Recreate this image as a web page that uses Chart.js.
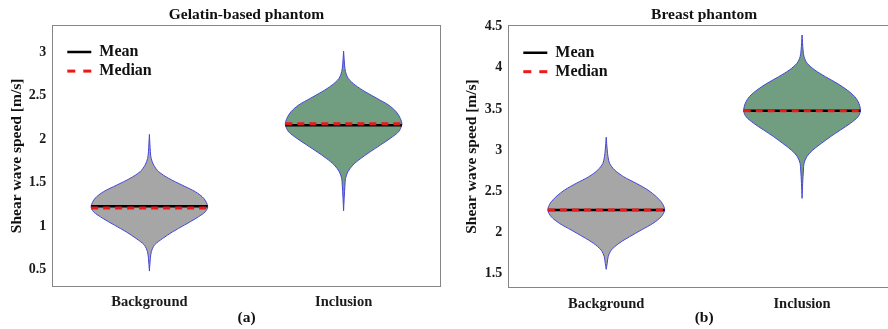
<!DOCTYPE html>
<html>
<head>
<meta charset="utf-8">
<title>Shear wave speed violins</title>
<script src="https://cdn.jsdelivr.net/npm/chart.js@4.4.1/dist/chart.umd.min.js"></script>
<style>
  html, body { margin: 0; padding: 0; background: #fff; overflow: hidden; }
  #wrap { position: relative; width: 888px; height: 329px; overflow: hidden; }
  canvas { position: absolute; top: 0; }
  #chartA { left: 0; }
  #chartB { left: 444px; }
</style>
</head>
<body>
<div id="wrap">
  <canvas id="chartA" width="444" height="329"></canvas>
  <canvas id="chartB" width="456" height="329"></canvas>
</div>
<script>
const categories = ['Background', 'Inclusion'];
const xTicks = [1, 2];

// (a) Gelatin-based phantom - violin outline: speed level (top to bottom) and half width
const gelBgLevels = [2.055, 1.855, 1.779, 1.702, 1.625, 1.548, 1.471, 1.394, 1.318, 1.226, 1.164, 1.088, 1.01, 0.933, 0.857, 0.78, 0.703, 0.627, 0.48];
const gelBgHalf = [0, 0.005, 0.009, 0.022, 0.048, 0.10, 0.168, 0.237, 0.28, 0.30, 0.288, 0.24, 0.18, 0.12, 0.069, 0.026, 0.01, 0.005, 0];
const gelIncLevels = [3.015, 2.854, 2.777, 2.70, 2.623, 2.546, 2.47, 2.393, 2.316, 2.24, 2.17, 2.085, 2.009, 1.932, 1.855, 1.779, 1.702, 1.624, 1.548, 1.471, 1.318, 1.175];
const gelIncHalf = [0, 0.005, 0.010, 0.024, 0.060, 0.112, 0.172, 0.232, 0.271, 0.292, 0.30, 0.283, 0.240, 0.189, 0.137, 0.089, 0.048, 0.022, 0.010, 0.007, 0.003, 0];
const gelMean = [1.226, 2.162];
const gelMedian = [1.207, 2.178];
const gelTicks = [0.5, 1, 1.5, 2, 2.5, 3];

// (b) Breast phantom
const brBgLevels = [3.155, 3.0, 2.918, 2.838, 2.757, 2.675, 2.595, 2.513, 2.432, 2.352, 2.27, 2.189, 2.108, 2.027, 1.945, 1.865, 1.783, 1.702, 1.622, 1.549];
const brBgHalf = [0, 0.005, 0.009, 0.017, 0.043, 0.089, 0.153, 0.213, 0.256, 0.286, 0.298, 0.281, 0.239, 0.179, 0.119, 0.065, 0.026, 0.010, 0.005, 0];
const brIncLevels = [4.399, 4.217, 4.135, 4.055, 3.973, 3.892, 3.811, 3.73, 3.649, 3.568, 3.478, 3.405, 3.325, 3.243, 3.162, 3.081, 3.0, 2.918, 2.838, 2.757, 2.595, 2.412];
const brIncHalf = [0, 0.005, 0.010, 0.026, 0.065, 0.119, 0.179, 0.23, 0.269, 0.29, 0.298, 0.286, 0.247, 0.196, 0.145, 0.099, 0.055, 0.024, 0.010, 0.007, 0.003, 0];
const brMean = [2.27, 3.478];
const brMedian = [2.27, 3.478];
const brTicks = [1.5, 2, 2.5, 3, 3.5, 4, 4.5];

const bgFill = 'rgb(166, 166, 166)';
const incFill = 'rgb(113, 157, 128)';
const edge = 'rgb(70, 70, 215)';
const frame = '#858585';

Chart.defaults.font.family = "'Liberation Serif', 'Times New Roman', serif";
Chart.defaults.font.weight = 'bold';
Chart.defaults.color = '#1a1a1a';

// closed outline: right side going down, left side coming back up
function violin(center, levels, half) {
  const right = levels.map((y, i) => ({ x: center + half[i], y: y }));
  const left = levels.map((y, i) => ({ x: center - half[i], y: y })).reverse();
  return right.concat(left);
}

// one horizontal segment per category, broken by a null point
function statLine(values, widths) {
  const pts = [];
  values.forEach((v, i) => {
    if (i > 0) pts.push({ x: xTicks[i] - 0.5, y: null });
    pts.push({ x: xTicks[i] - widths[i], y: v }, { x: xTicks[i] + widths[i], y: v });
  });
  return pts;
}

// puts the legend inside the plot, a bit away from the frame corner
const legendNudge = {
  id: 'legendNudge',
  afterLayout(chart, args, opts) {
    const lg = chart.legend;
    const area = chart.chartArea;
    lg.left = area.left + opts.dx;
    lg.top = area.top + opts.dy;
    lg.right = area.right;
    lg.bottom = area.bottom;
  }
};

function legendItems(chart) {
  const base = Chart.defaults.plugins.legend.labels.generateLabels(chart);
  return base
    .filter(item => item.text === 'Mean' || item.text === 'Median')
    .map(item => {
      const ds = chart.data.datasets[item.datasetIndex];
      item.strokeStyle = ds.borderColor;
      item.lineWidth = ds.borderWidth;
      item.lineDash = ds.borderDash ? [8, 8] : [];
      return item;
    });
}

function panel(id, cfg) {
  const widths = [Math.max(...cfg.bgHalf), Math.max(...cfg.incHalf)];
  return new Chart(document.getElementById(id), {
    type: 'line',
    plugins: [legendNudge],
    data: {
      datasets: [
        {
          label: 'Mean',
          data: statLine(cfg.mean, widths),
          borderColor: '#000',
          borderWidth: 2.5,
          order: 1
        },
        {
          label: 'Median',
          data: statLine(cfg.median, widths),
          borderColor: 'rgb(235, 25, 25)',
          borderWidth: 3,
          borderDash: [7, 5],
          order: 0
        },
        {
          label: categories[0],
          data: violin(xTicks[0], cfg.bgLevels, cfg.bgHalf),
          fill: 'shape',
          backgroundColor: bgFill,
          borderColor: edge,
          borderWidth: 1,
          tension: 0.3,
          order: 2
        },
        {
          label: categories[1],
          data: violin(xTicks[1], cfg.incLevels, cfg.incHalf),
          fill: 'shape',
          backgroundColor: incFill,
          borderColor: edge,
          borderWidth: 1,
          tension: 0.3,
          order: 2
        }
      ]
    },
    options: {
      responsive: false,
      animation: false,
      devicePixelRatio: 1,
      events: [],
      layout: { padding: { right: cfg.padRight } },
      elements: { point: { radius: 0 } },
      plugins: {
        title: {
          display: true,
          text: cfg.title,
          fullSize: false,
          color: '#111',
          font: { size: 15.5, weight: 'bold' },
          padding: cfg.titlePad
        },
        legend: {
          position: 'chartArea',
          align: 'start',
          labels: {
            usePointStyle: true,
            pointStyle: 'line',
            pointStyleWidth: 24,
            padding: 3,
            color: '#111',
            font: { size: 16, weight: 'bold' },
            generateLabels: legendItems,
            sort: (a, b) => a.datasetIndex - b.datasetIndex
          }
        },
        legendNudge: { dx: 12, dy: 16 },
        tooltip: { enabled: false }
      },
      scales: {
        x: {
          type: 'linear',
          min: 0.5,
          max: 2.5,
          afterBuildTicks: s => { s.ticks = xTicks.map(v => ({ value: v })); },
          afterFit: s => { s.height = cfg.xAxisHeight; },
          grid: { display: false, drawTicks: false },
          border: { display: true, color: frame, width: 1 },
          ticks: {
            padding: cfg.xTickPad,
            color: '#1a1a1a',
            font: { size: 14.5, weight: 'bold' },
            callback: v => categories[xTicks.indexOf(v)]
          },
          title: {
            display: true,
            text: cfg.letter,
            color: '#111',
            font: { size: 15.5, weight: 'bold' },
            padding: { top: 0, bottom: 2 }
          }
        },
        y: {
          min: cfg.yMin,
          max: cfg.yMax,
          afterBuildTicks: s => { s.ticks = cfg.yTicks.map(v => ({ value: v })); },
          afterFit: s => { s.width = cfg.yAxisWidth; },
          grid: { display: false, drawTicks: false },
          border: { display: true, color: frame, width: 1 },
          ticks: {
            padding: 6,
            color: '#1a1a1a',
            font: { size: 14, weight: 'bold' },
            callback: v => String(v)
          },
          title: {
            display: true,
            text: 'Shear wave speed [m/s]',
            color: '#111',
            font: { size: 15.5, weight: 'bold' },
            padding: { top: cfg.yTitlePad, bottom: 0 }
          }
        },
        x2: {
          type: 'linear',
          position: 'top',
          min: 0.5,
          max: 2.5,
          grid: { display: false, drawTicks: false },
          ticks: { display: false },
          border: { display: true, color: frame, width: 1 }
        },
        y2: {
          type: 'linear',
          position: 'right',
          min: cfg.yMin,
          max: cfg.yMax,
          grid: { display: false, drawTicks: false },
          ticks: { display: false },
          border: { display: true, color: frame, width: 1 }
        }
      }
    }
  });
}

panel('chartA', {
  title: 'Gelatin-based phantom',
  letter: '(a)',
  bgLevels: gelBgLevels, bgHalf: gelBgHalf,
  incLevels: gelIncLevels, incHalf: gelIncHalf,
  mean: gelMean, median: gelMedian,
  yTicks: gelTicks, yMin: 0.30, yMax: 3.315,
  padRight: 3.3, titlePad: { top: 5.5, bottom: 1 },
  xAxisHeight: 42.3, yAxisWidth: 52.3, yTitlePad: 7.5, xTickPad: 7
});

panel('chartB', {
  title: 'Breast phantom',
  letter: '(b)',
  bgLevels: brBgLevels, bgHalf: brBgHalf,
  incLevels: brIncLevels, incHalf: brIncHalf,
  mean: brMean, median: brMedian,
  yTicks: brTicks, yMin: 1.33, yMax: 4.512,
  padRight: 0, titlePad: { top: 6, bottom: 1.1 },
  xAxisHeight: 41.7, yAxisWidth: 64.3, yTitlePad: 18.4, xTickPad: 8
});
</script>
</body>
</html>
